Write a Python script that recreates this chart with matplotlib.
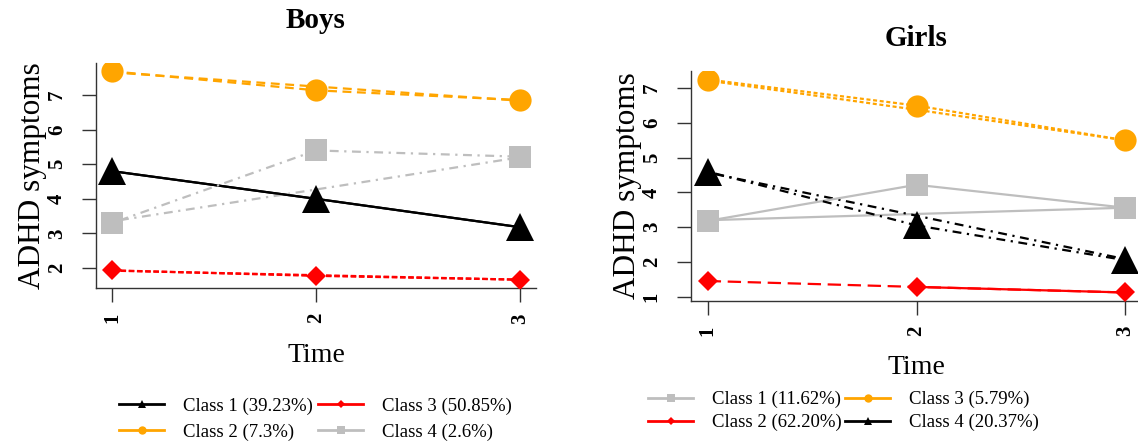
import matplotlib
matplotlib.use("Agg")
import numpy as np
import matplotlib.pyplot as plt
from matplotlib.lines import Line2D

plt.rcParams['font.family'] = ['Liberation Serif', 'DejaVu Serif']

time = [1, 2, 3]

# Boys: observed class means and estimated trajectories
boys_labels = ['Class 1 (39.23%)', 'Class 2 (7.3%)', 'Class 3 (50.85%)', 'Class 4 (2.6%)']
boys_obs = [[4.80, 4.00, 3.18],
            [7.69, 7.14, 6.86],
            [1.93, 1.77, 1.66],
            [3.30, 5.40, 5.22]]
boys_est = [[4.80, 4.00, 3.18],
            [7.66, 7.25, 6.84],
            [1.92, 1.79, 1.66],
            [3.35, 4.27, 5.20]]

# Girls
girls_labels = ['Class 1 (11.62%)', 'Class 2 (62.20%)', 'Class 3 (5.79%)', 'Class 4 (20.37%)']
girls_obs = [[3.18, 4.22, 3.56],
             [1.45, 1.28, 1.12],
             [7.25, 6.50, 5.50],
             [4.60, 3.05, 2.05]]
girls_est = [[3.20, 3.38, 3.56],
             [np.nan, 1.28, 1.12],
             [7.22, 6.38, 5.50],
             [4.57, 3.33, 2.08]]

ORANGE = '#FFA500'
RED = '#FF0000'
GREY = '#BEBEBE'
BLACK = '#000000'

boys_style = [
    dict(color=BLACK, marker='^', ms=20, ls='-', est_ls='-'),
    dict(color=ORANGE, marker='o', ms=16, ls=(0, (4, 2.5)), est_ls=(0, (4, 2.5))),
    dict(color=RED, marker='D', ms=10.5, ls=(0, (2.5, 1.2)), est_ls=(0, (2.5, 1.2))),
    dict(color=GREY, marker='s', ms=16, ls=(0, (1, 2.5, 4, 2.5)), est_ls=(0, (1, 2.5, 4, 2.5))),
]
girls_style = [
    dict(color=GREY, marker='s', ms=16, ls='-', est_ls='-'),
    dict(color=RED, marker='D', ms=10.5, ls=(0, (6, 3)), est_ls='-'),
    dict(color=ORANGE, marker='o', ms=16, ls=(0, (1.8, 1.2)), est_ls=(0, (1.8, 1.2))),
    dict(color=BLACK, marker='^', ms=20, ls=(0, (1, 2.5, 4, 2.5)), est_ls=(0, (1, 2.5, 4, 2.5))),
]

W, H = 1138, 442
fig = plt.figure(figsize=(W / 100, H / 100), dpi=100)


def px_axes(left, top, right, bottom):
    return fig.add_axes([left / W, 1 - bottom / H, (right - left) / W, (bottom - top) / H])


def draw_panel(ax, obs, est, styles):
    for o, e, st in zip(obs, est, styles):
        ax.plot(time, e, color=st['color'], ls=st['est_ls'], lw=1.6, zorder=2)
        ax.plot(time, o, color=st['color'], ls=st['ls'], lw=1.6,
                marker=st['marker'], ms=st['ms'], markeredgewidth=0, zorder=3)
    vals = np.array(obs + est, dtype=float)
    lo, hi = np.nanmin(vals), np.nanmax(vals)
    pad = 0.04 * (hi - lo)
    ax.set_ylim(lo - pad, hi + pad)
    ax.set_xlim(0.92, 3.08)
    ax.set_xticks(time)
    ax.set_yticks(range(int(np.ceil(lo - pad)), int(hi + pad) + 1))
    for side in ['top', 'right']:
        ax.spines[side].set_visible(False)
    for side in ['left', 'bottom']:
        ax.spines[side].set_color('#333333')
        ax.spines[side].set_linewidth(1.0)
    ax.tick_params(length=10, width=1.0, color='#333333', labelsize=15)
    ax.tick_params(axis='y', pad=11)
    ax.tick_params(axis='x', pad=8)
    for lab in ax.get_yticklabels():
        lab.set_rotation(90)
        lab.set_va('center')
        lab.set_fontweight('bold')
    for lab in ax.get_xticklabels():
        lab.set_rotation(90)
        lab.set_fontweight('bold')
    ax.set_ylabel('ADHD symptoms', fontsize=22.5, labelpad=0)


def legend_handles(styles, labels):
    hs = []
    for st, lab in zip(styles, labels):
        hs.append(Line2D([], [], color=st['color'], lw=2, marker=st['marker'],
                         ms=6 if st['marker'] != 'D' else 4, markeredgewidth=0, label=lab))
    return hs


ax_b = px_axes(96, 63, 536, 288)
draw_panel(ax_b, boys_obs, boys_est, boys_style)
fig.text(316 / W, 1 - 21 / H, 'Boys', fontsize=21, fontweight='bold', ha='center', va='center')
fig.text(316 / W, 1 - 356 / H, 'Time', fontsize=20, ha='center', va='center')
fig.legend(handles=legend_handles(boys_style, boys_labels), ncol=2, frameon=False,
           fontsize=13.5, loc='center left', bbox_to_anchor=(119 / W, 1 - 419 / H),
           handlelength=2.4, handletextpad=1.0, columnspacing=0.3, labelspacing=0.45,
           borderpad=0, borderaxespad=0)

ax_g = px_axes(691, 71, 1142, 301)
draw_panel(ax_g, girls_obs, girls_est, girls_style)
fig.text(916 / W, 1 - 38 / H, 'Girls', fontsize=21, fontweight='bold', ha='center', va='center')
fig.text(916 / W, 1 - 367 / H, 'Time', fontsize=20, ha='center', va='center')
fig.legend(handles=legend_handles(girls_style, girls_labels), ncol=2, frameon=False,
           fontsize=13.5, loc='center left', bbox_to_anchor=(648 / W, 1 - 411 / H),
           handlelength=2.4, handletextpad=1.0, columnspacing=0.2, labelspacing=0.3,
           borderpad=0, borderaxespad=0)

fig.savefig('out.png', dpi=100)
